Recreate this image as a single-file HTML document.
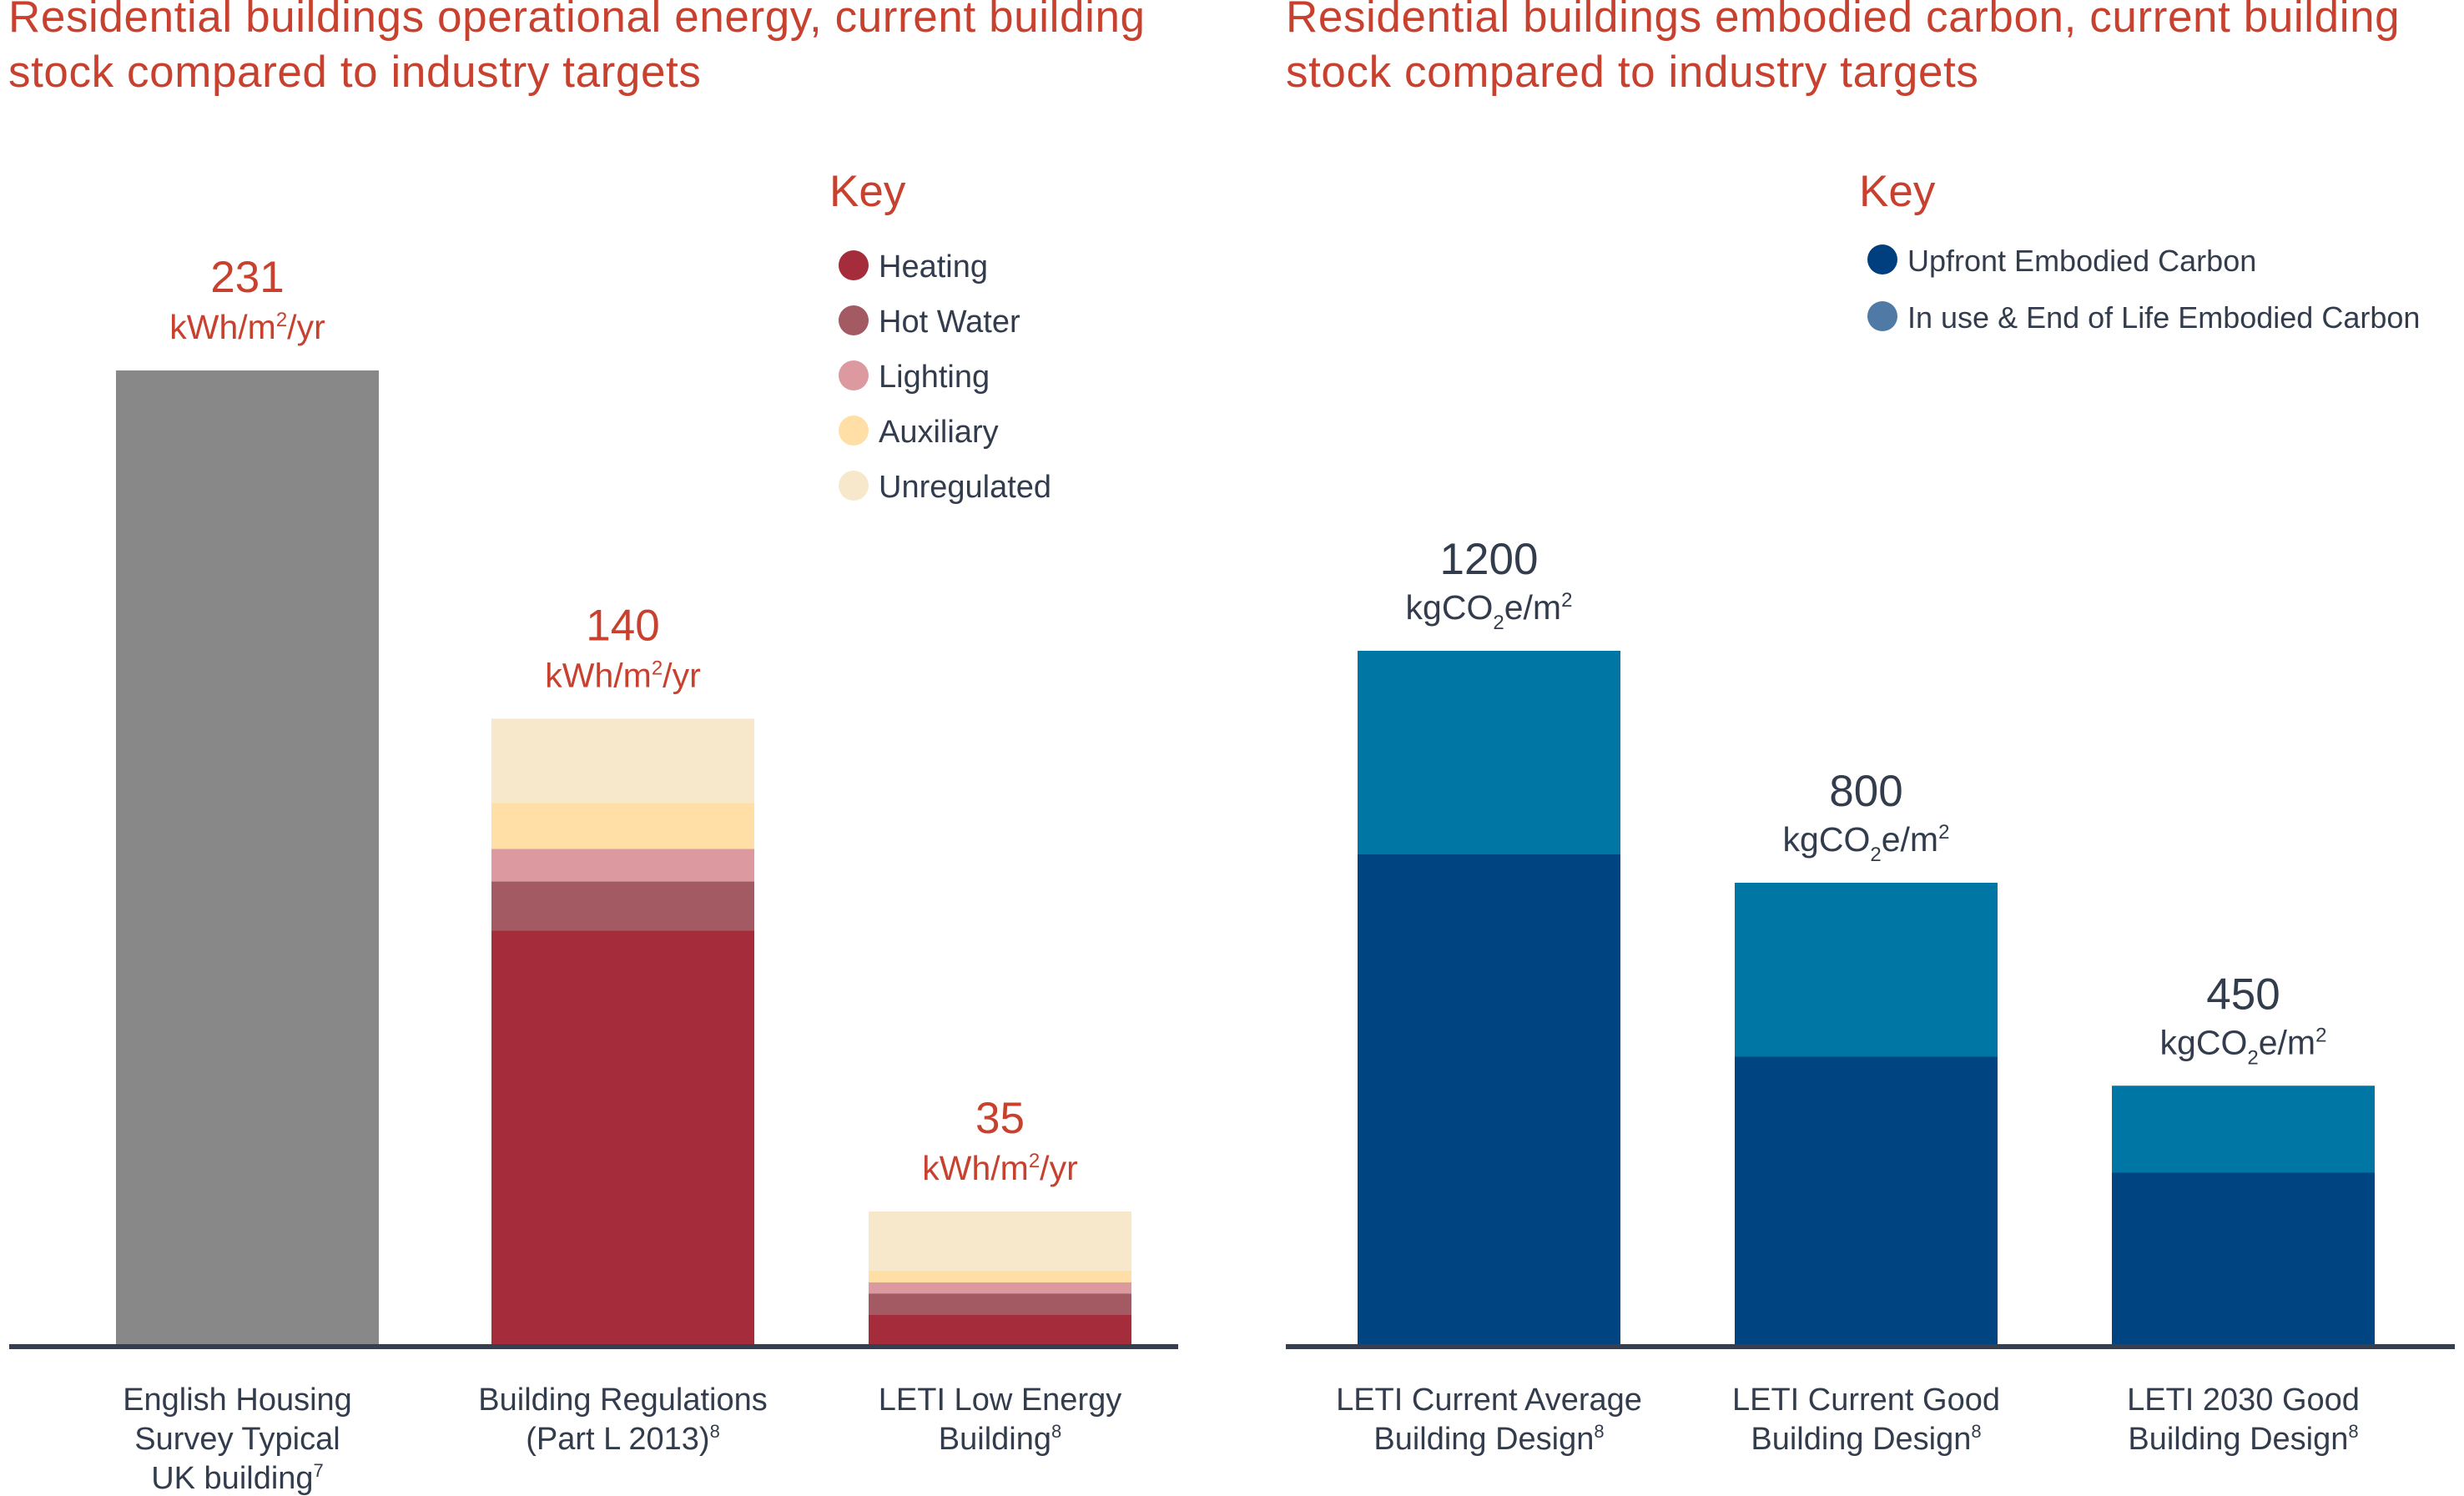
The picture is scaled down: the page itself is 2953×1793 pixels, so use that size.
<!DOCTYPE html>
<html><head><meta charset="utf-8"><style>
html,body{margin:0;padding:0;background:#fff;}
svg{display:block;font-family:"Liberation Sans",Arial,sans-serif;}
</style></head><body>
<svg id="chart" width="2953" height="1793" viewBox="0 0 2953 1793" xmlns="http://www.w3.org/2000/svg">
<g fill="#c8412f" font-size="53" letter-spacing="0.6">
<text x="10" y="38">Residential buildings operational energy, current building</text>
<text x="10" y="104">stock compared to industry targets</text>
</g>
<g fill="#c8412f" font-size="53" letter-spacing="0.6">
<text x="1541" y="38">Residential buildings embodied carbon, current building</text>
<text x="1541" y="104">stock compared to industry targets</text>
</g>
<text x="994" y="247" fill="#c8412f" font-size="53">Key</text>
<text x="2228" y="247" fill="#c8412f" font-size="53">Key</text>
<g id="left"></g>
<g id="right"></g>
</svg>
<script>
// Left chart data (kWh/m2/yr)
const leftCategories = [["English Housing","Survey Typical","UK building|7"],["Building Regulations","(Part L 2013)|8"],["LETI Low Energy","Building|8"]];
const leftTotals = ["231","140","35"];
const leftGrey = [231, 0, 0];
const heating = [0, 98.5, 7.5];
const hotWater = [0, 11.6, 5.1];
const lighting = [0, 7.7, 2.6];
const auxiliary = [0, 10.9, 2.8];
const unregulated = [0, 19.9, 14.0];
const leftSeriesNames = ["Heating","Hot Water","Lighting","Auxiliary","Unregulated"];
// Right chart data (kgCO2e/m2)
const rightCategories = [["LETI Current  Average","Building Design|8"],["LETI Current Good","Building Design|8"],["LETI 2030  Good","Building Design|8"]];
const rightTotals = ["1200","800","450"];
const upfront = [850, 500, 300];
const inUse = [350, 300, 150];
const rightSeriesNames = ["Upfront Embodied Carbon","In use & End of Life Embodied Carbon"];

const NS = "http://www.w3.org/2000/svg";
function mk(tag, attrs, parent){const e=document.createElementNS(NS,tag);for(const k in attrs)e.setAttribute(k,attrs[k]);parent.appendChild(e);return e;}

const baseY = 1614;
const lScale = 1170/231;
const lX = [139, 589, 1041], bw = 315;
const yL = v => baseY - v*lScale;
const rScale = 834/1200;
const rX = [1627, 2079, 2531];
const yR = v => baseY - v*rScale;

const L = document.getElementById('left');
const R = document.getElementById('right');

function catLabel(parent, lines, cx, y0, name){
  const t = mk('text', {x:cx, y:y0, 'text-anchor':'middle', fill:'#333c4c', 'font-size':38}, parent);
  
  
  lines.forEach((ln,i)=>{
    const parts = ln.split('|');
    const ts = mk('tspan', {x:cx, dy: i===0?0:47}, t);
    ts.textContent = parts[0];
    if(parts[1]){const s = mk('tspan',{'font-size':22,dy:-14},t); s.textContent=parts[1]; mk('tspan',{dy:14},t).textContent='';}
  });
}

const lColors = ["#a52c3b","#a35a62","#dc9aa0","#ffdfa6","#f7e8cc"];
const lSeries = [heating, hotWater, lighting, auxiliary, unregulated];
const lKeys = ["heating","hot-water","lighting","auxiliary","unregulated"];
for(let i=0;i<3;i++){
  let top;
  if(leftGrey[i]>0){
    const r = mk('rect',{x:lX[i],y:yL(leftGrey[i]),width:bw,height:leftGrey[i]*lScale,fill:'#888888'},L);
    
    
    top = leftGrey[i];
  } else {
    let acc = 0;
    lSeries.forEach((s,k)=>{
      const r = mk('rect',{x:lX[i],y:yL(acc+s[i]),width:bw,height:s[i]*lScale,fill:lColors[k]},L);
      
      
      acc += s[i];
    });
    top = acc;
  }
  const cx = lX[i]+bw/2;
  const v = mk('text',{x:cx,y:yL(top)-94,'text-anchor':'middle',fill:'#c8412f','font-size':53},L);
  
  
  v.textContent = leftTotals[i];
  const u = mk('text',{x:cx,y:yL(top)-38,'text-anchor':'middle',fill:'#c8412f','font-size':41},L);
  
  
  u.appendChild(document.createTextNode('kWh/m'));
  const s2 = mk('tspan',{'font-size':24,dy:-15},u); s2.textContent='2';
  const s3 = mk('tspan',{dy:15},u); s3.textContent='/yr';
  catLabel(L, leftCategories[i], i===0 ? cx-12 : cx, 1690, 'category-label-left-'+i);
}
const lAxis = mk('rect',{x:11,y:baseY-3,width:1401,height:6,fill:'#353f50'},L);


leftSeriesNames.forEach((n,k)=>{
  const cy = 318 + k*66;
  const c = mk('circle',{cx:1023,cy:cy,r:18,fill:lColors[k]},L);
  
  
  const t = mk('text',{x:1053,y:cy+14,fill:'#333c4c','font-size':38},L);
  
  
  t.textContent = n;
});

for(let i=0;i<3;i++){
  const r1 = mk('rect',{x:rX[i],y:yR(upfront[i]),width:bw,height:upfront[i]*rScale,fill:'#004481'},R);
  
  
  const tot = upfront[i]+inUse[i];
  const r2 = mk('rect',{x:rX[i],y:yR(tot),width:bw,height:inUse[i]*rScale,fill:'#0076a5'},R);
  
  
  const cx = rX[i]+bw/2;
  const v = mk('text',{x:cx,y:yR(tot)-92,'text-anchor':'middle',fill:'#333c4c','font-size':53},R);
  
  
  v.textContent = rightTotals[i];
  const u = mk('text',{x:cx,y:yR(tot)-38,'text-anchor':'middle',fill:'#333c4c','font-size':41},R);
  
  
  u.appendChild(document.createTextNode('kgCO'));
  const a = mk('tspan',{'font-size':24,dy:12},u); a.textContent='2';
  const b = mk('tspan',{dy:-12},u); b.textContent='e/m';
  const c2 = mk('tspan',{'font-size':24,dy:-15},u); c2.textContent='2';
  catLabel(R, rightCategories[i], cx, 1690, 'category-label-right-'+i);
}
const rAxis = mk('rect',{x:1541,y:baseY-3,width:1401,height:6,fill:'#353f50'},R);


const rColors = ["#003f7f","#4f7aa6"];
const rKeys = ["upfront","in-use"];
rightSeriesNames.forEach((n,k)=>{
  const cy = 311 + k*68;
  const c = mk('circle',{cx:2256,cy:cy,r:18,fill:rColors[k]},R);
  
  
  const t = mk('text',{x:2286,y:cy+14,fill:'#333c4c','font-size':36},R);
  
  
  t.textContent = n;
});
</script>
</body></html>
